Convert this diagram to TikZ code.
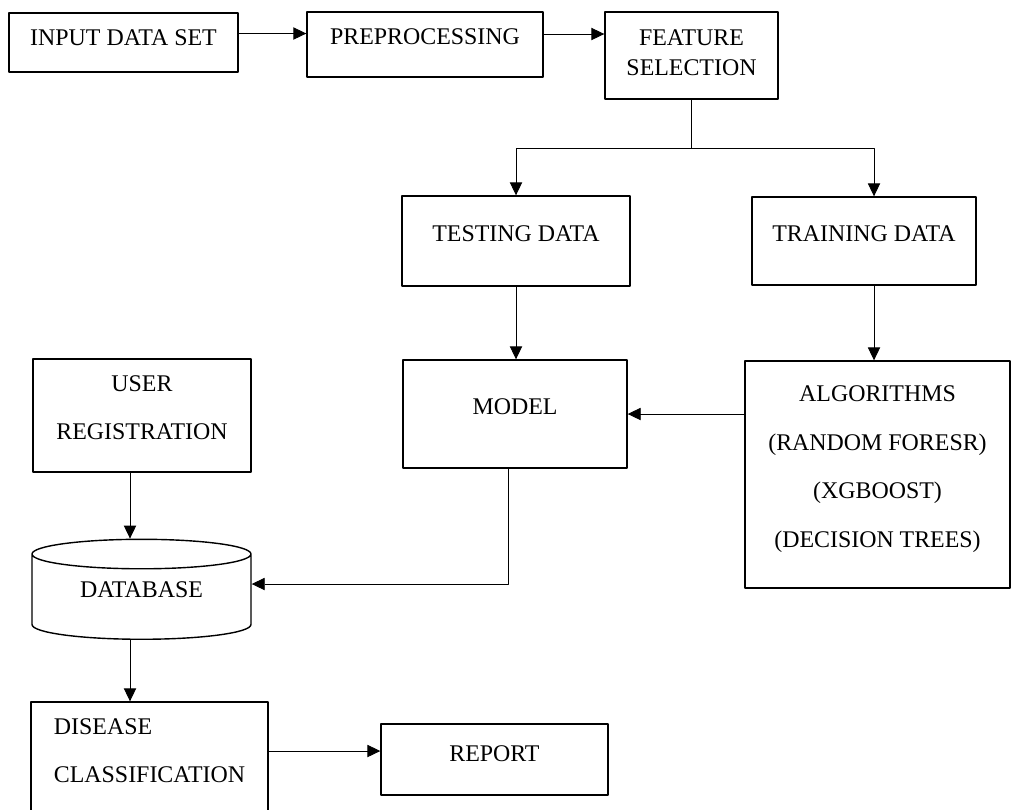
\documentclass[tikz,border=0pt]{standalone}
\usepackage{fontspec}
\setmainfont{Liberation Serif}
\usetikzlibrary{arrows.meta,shapes.geometric}
\tikzset{
  box/.style={draw, line width=0.8pt, rectangle, inner sep=0pt, align=center, text height=8pt, text depth=8pt},
  dbase/.style={draw, line width=0.8pt, cylinder, shape border rotate=90, aspect=0.24, inner sep=0pt, text height=8pt, text depth=8pt},
  link/.style={line width=0.5pt},
  arr/.style={link, -{Triangle[length=7.4pt,width=7pt]}}
}
\begin{document}
\begin{tikzpicture}[x=0.02cm, y=-0.02cm, line join=round, font=\fontsize{13.6pt}{27.5pt}\selectfont]
\useasboundingbox (0,0) rectangle (1013,809);
\clip (0,0) rectangle (1013,809);
% top row
\node[box, minimum width=4.58cm, minimum height=1.18cm, text height=9.5pt, text depth=6.5pt]
      (input) at (123.5,42.5) {INPUT DATA SET};
\node[box, minimum width=4.72cm, minimum height=1.30cm] (prep) at (425,44.5) {PREPROCESSING};
\node[box, minimum width=3.46cm, minimum height=1.74cm, font=\fontsize{13.6pt}{17pt}\selectfont,
      text height=30.2pt, text depth=8pt] (feat) at (691.5,55.5) {FEATURE\\SELECTION};
% data split
\node[box, minimum width=4.56cm, minimum height=1.80cm] (test) at (516,241) {TESTING DATA};
\node[box, minimum width=4.48cm, minimum height=1.76cm] (train) at (864,241) {TRAINING DATA};
\node[box, minimum width=4.48cm, minimum height=2.16cm] (model) at (515,414) {MODEL};
\node[box, minimum width=5.30cm, minimum height=4.54cm, font=\fontsize{13.6pt}{27.7pt}\selectfont,
      text height=91.1pt, text depth=8pt] (alg) at (877.5,474.5)
      {ALGORITHMS\\(RANDOM FORESR)\\(XGBOOST)\\(DECISION TREES)};
% user side
\node[box, minimum width=4.36cm, minimum height=2.26cm, text height=35.5pt, text depth=8pt]
      (user) at (142,415.5) {USER\\REGISTRATION};
\node[dbase, minimum width=4.38cm, minimum height=2.00cm] (db) at (141.5,597) {DATABASE};
\node[box, align=left, minimum width=4.74cm, minimum height=2.56cm, text height=39.3pt, text depth=20pt]
      (disease) at (149.5,766) {DISEASE\\CLASSIFICATION};
\node[box, minimum width=4.54cm, minimum height=1.42cm, text height=9pt, text depth=7pt]
      (report) at (494.5,759.5) {REPORT};
\coordinate (fork) at (691.5,148);
% connectors
\draw[arr] ([yshift=0.18cm]input.east) -- ([yshift=0.18cm]input.east -| prep.west);
\draw[arr] ([yshift=0.21cm]prep.east) -- ([yshift=0.21cm]prep.east -| feat.west);
\draw[link] (feat.south) -- (fork);
\draw[arr] (fork) -| (test.north);
\draw[arr] (fork) -| ([xshift=0.2cm]train.north);
\draw[arr] (test.south) -- (test.south |- model.north);
\draw[arr] ([xshift=0.2cm]train.south) -- ([xshift=0.2cm]train.south |- alg.north);
\draw[arr] (alg.west |- model.east) -- (model.east);
\draw[arr] ([xshift=-0.14cm]model.south) |- ([yshift=0.26cm]db.east);
\draw[arr] ([xshift=-0.24cm]user.south) -- ([xshift=-0.24cm]user.south |- db.north);
\draw[arr] ([xshift=-0.23cm]db.south) -- ([xshift=-0.23cm]db.south |- disease.north);
\draw[arr] ([yshift=0.17cm]report.west -| disease.east) -- ([yshift=0.17cm]report.west);
\end{tikzpicture}
\end{document}
